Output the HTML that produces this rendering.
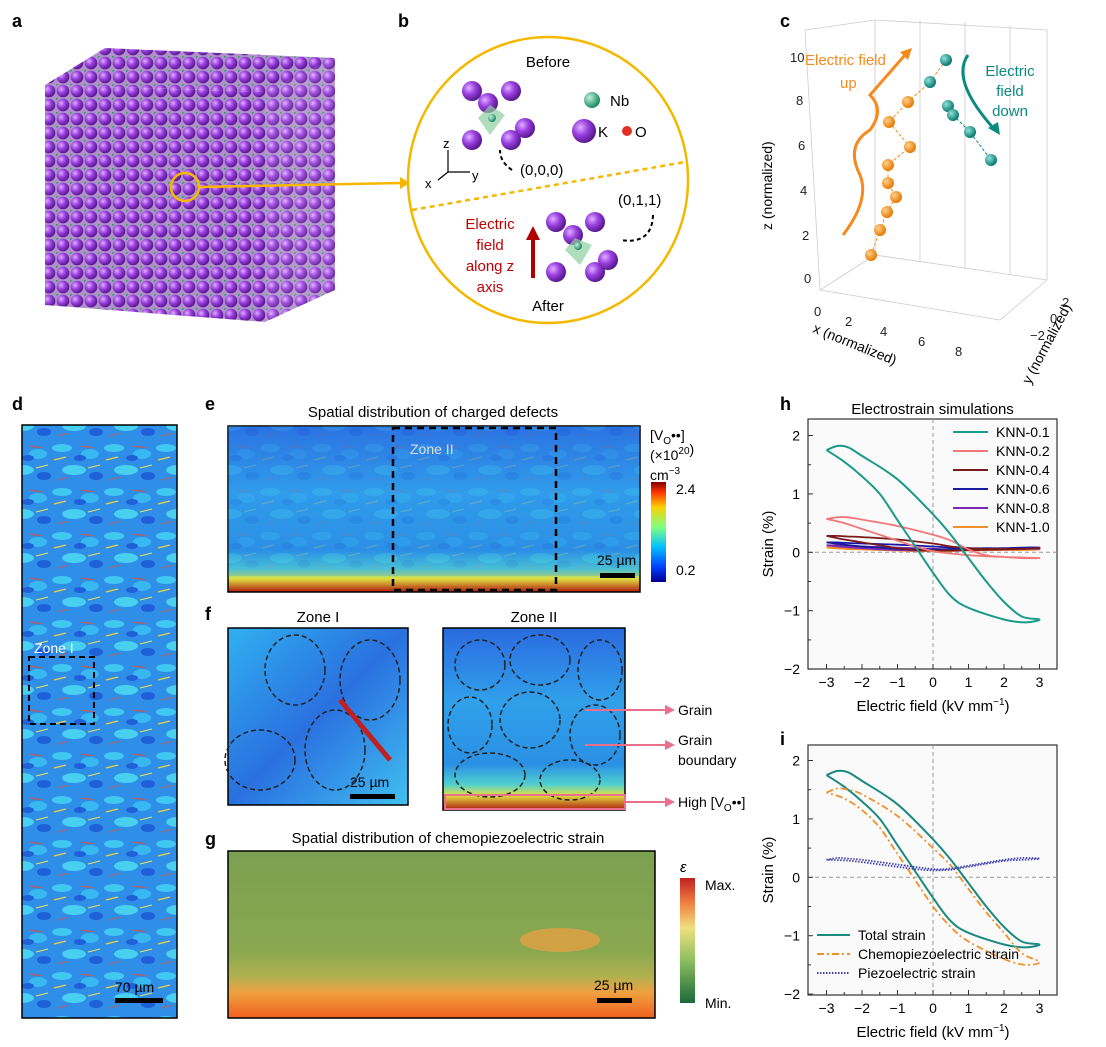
<!DOCTYPE html>
<html><head><meta charset="utf-8"><style>
body{margin:0;background:#fff;}
svg{display:block;font-family:"Liberation Sans",Arial,sans-serif;}
</style></head><body>
<svg id="fig" width="1106" height="1047" viewBox="0 0 1106 1047">
<defs>
<radialGradient id="ball" cx="35%" cy="35%" r="65%"><stop offset="0" stop-color="#e0b0ff"/><stop offset="0.5" stop-color="#9a3fe0"/><stop offset="1" stop-color="#5a1a90"/></radialGradient>
<radialGradient id="nb" cx="35%" cy="35%" r="65%"><stop offset="0" stop-color="#c0f0d8"/><stop offset="1" stop-color="#1c8a66"/></radialGradient>
<radialGradient id="tl" cx="35%" cy="35%" r="65%"><stop offset="0" stop-color="#8fe0d8"/><stop offset="1" stop-color="#0a7a70"/></radialGradient>
<radialGradient id="or" cx="35%" cy="35%" r="65%"><stop offset="0" stop-color="#ffd090"/><stop offset="1" stop-color="#e87a00"/></radialGradient>
<pattern id="atoms" width="14" height="14" patternUnits="userSpaceOnUse"><rect width="14" height="14" fill="#b090c8"/><circle cx="7" cy="7" r="6.3" fill="url(#ball)"/><circle cx="0" cy="0" r="2" fill="#3aa070"/></pattern>
<pattern id="grains" width="52" height="44" patternUnits="userSpaceOnUse"><rect width="52" height="44" fill="#2f8ee8"/><ellipse cx="10" cy="8" rx="10" ry="4" fill="#40c8f0"/><ellipse cx="38" cy="14" rx="9" ry="5" fill="#38b8f0"/><ellipse cx="22" cy="30" rx="12" ry="5" fill="#48d0f0"/><ellipse cx="44" cy="36" rx="7" ry="4" fill="#1e5ed8"/><ellipse cx="28" cy="18" rx="6" ry="3" fill="#2060d8"/><path d="M2 20 L14 17" stroke="#f0d040" stroke-width="1.3"/><path d="M30 6 L42 8" stroke="#e05030" stroke-width="1"/><path d="M36 28 L48 25" stroke="#f0e060" stroke-width="1"/><path d="M6 40 L16 37" stroke="#e05030" stroke-width="0.8"/></pattern>
<linearGradient id="egrad" x1="0" y1="0" x2="0" y2="1"><stop offset="0" stop-color="#2a6ae0"/><stop offset="0.4" stop-color="#30a0ea"/><stop offset="0.75" stop-color="#2a90e4"/><stop offset="0.86" stop-color="#50d0d0"/><stop offset="0.92" stop-color="#e0e040"/><stop offset="1" stop-color="#b01a10"/></linearGradient>
<linearGradient id="ggrad" x1="0" y1="0" x2="0" y2="1"><stop offset="0" stop-color="#7aa050"/><stop offset="0.6" stop-color="#8aa850"/><stop offset="0.75" stop-color="#b0b050"/><stop offset="0.85" stop-color="#f0a040"/><stop offset="1" stop-color="#f06020"/></linearGradient>
<linearGradient id="jet" x1="0" y1="1" x2="0" y2="0"><stop offset="0" stop-color="#00008f"/><stop offset="0.15" stop-color="#0040ff"/><stop offset="0.35" stop-color="#00c0ff"/><stop offset="0.55" stop-color="#80ff80"/><stop offset="0.75" stop-color="#ffd000"/><stop offset="0.9" stop-color="#ff3000"/><stop offset="1" stop-color="#800000"/></linearGradient>
<linearGradient id="rdylgn" x1="0" y1="1" x2="0" y2="0"><stop offset="0" stop-color="#1a6a3a"/><stop offset="0.35" stop-color="#90c060"/><stop offset="0.6" stop-color="#f0e080"/><stop offset="0.8" stop-color="#f08040"/><stop offset="1" stop-color="#c02020"/></linearGradient>
<linearGradient id="z1" x1="0" y1="0" x2="1" y2="1"><stop offset="0" stop-color="#30b0f0"/><stop offset="0.5" stop-color="#2a70e0"/><stop offset="1" stop-color="#40c0f0"/></linearGradient>
</defs>

<g font-weight="bold" font-size="18" fill="#000">
<text x="12" y="27">a</text>
<text x="398" y="27">b</text>
<text x="780" y="27">c</text>
<text x="12" y="410">d</text>
<text x="205" y="410">e</text>
<text x="205" y="620">f</text>
<text x="205" y="845">g</text>
<text x="780" y="410">h</text>
<text x="780" y="745">i</text>
</g>

<!-- panel a cube -->
<g>
<polygon points="45,85 105,48 335,58 265,92" fill="url(#atoms)"/>
<polygon points="265,92 335,58 335,290 265,322" fill="url(#atoms)" opacity="0.9"/>
<polygon points="45,85 265,92 265,322 45,305" fill="url(#atoms)"/>
<circle cx="185" cy="187" r="14" fill="none" stroke="#f5b800" stroke-width="2.5"/>
<line x1="199" y1="187" x2="400" y2="183" stroke="#f5b800" stroke-width="2.5"/>
<polygon points="400,177 410,183 400,189" fill="#f5b800"/>
</g>

<!-- panel b circle -->
<g>
<ellipse cx="548" cy="180" rx="140" ry="143" fill="#fff" stroke="#f5b800" stroke-width="2.5"/>
<line x1="412" y1="210" x2="685" y2="162" stroke="#f5b800" stroke-width="2.5" stroke-dasharray="5,4"/>
<text x="548" y="67" font-size="15" text-anchor="middle">Before</text>
<text x="548" y="311" font-size="15" text-anchor="middle">After</text>
<g><circle cx="472" cy="91" r="10" fill="url(#ball)"/><circle cx="511" cy="91" r="10" fill="url(#ball)"/><circle cx="472" cy="140" r="10" fill="url(#ball)"/><circle cx="511" cy="140" r="10" fill="url(#ball)"/><circle cx="488" cy="103" r="10" fill="url(#ball)"/><circle cx="525" cy="128" r="10" fill="url(#ball)"/><polygon points="490,105 505,115 490,135 478,118" fill="#8fcfa0" opacity="0.7"/><circle cx="492" cy="118" r="4" fill="url(#nb)"/></g>
<circle cx="592" cy="100" r="8" fill="url(#nb)"/><text x="610" y="106" font-size="15">Nb</text>
<circle cx="584" cy="131" r="12" fill="url(#ball)"/><text x="598" y="137" font-size="15">K</text>
<circle cx="627" cy="131" r="5" fill="#e03020"/><text x="635" y="137" font-size="15">O</text>
<text x="520" y="175" font-size="15">(0,0,0)</text>
<path d="M512 170 Q500 162 500 150" stroke="#000" stroke-width="2" stroke-dasharray="4,3" fill="none"/>
<line x1="448" y1="172" x2="448" y2="150" stroke="#000" stroke-width="1.2"/><line x1="448" y1="172" x2="470" y2="172" stroke="#000" stroke-width="1.2"/><line x1="448" y1="172" x2="438" y2="180" stroke="#000" stroke-width="1.2"/>
<text x="443" y="148" font-size="13">z</text><text x="472" y="180" font-size="13">y</text><text x="425" y="188" font-size="13">x</text>
<text x="618" y="205" font-size="15">(0,1,1)</text>
<path d="M653 215 Q652 245 620 240" stroke="#000" stroke-width="2" stroke-dasharray="4,3" fill="none"/>
<g><circle cx="556" cy="222" r="10" fill="url(#ball)"/><circle cx="595" cy="222" r="10" fill="url(#ball)"/><circle cx="556" cy="272" r="10" fill="url(#ball)"/><circle cx="595" cy="272" r="10" fill="url(#ball)"/><circle cx="573" cy="235" r="10" fill="url(#ball)"/><circle cx="608" cy="260" r="10" fill="url(#ball)"/><polygon points="575,238 592,245 580,265 565,250" fill="#8fcfa0" opacity="0.7"/><circle cx="578" cy="246" r="4" fill="url(#nb)"/></g>
<g fill="#c00000" font-size="15" text-anchor="middle"><text x="490" y="229">Electric</text><text x="490" y="250">field</text><text x="490" y="271">along z</text><text x="490" y="292">axis</text></g>
<rect x="531" y="238" width="4" height="40" fill="#b00000"/><polygon points="526,240 533,226 540,240" fill="#b00000"/>
</g>

<!-- panel c 3D -->
<g stroke="#ccc" stroke-width="0.8" fill="none">
<polyline points="805,30 875,20 1047,30 1047,280"/>
<line x1="875" y1="20" x2="875" y2="255"/>
<line x1="805" y1="30" x2="820" y2="290"/>
<line x1="820" y1="290" x2="875" y2="255"/><line x1="875" y1="255" x2="1047" y2="280"/>
<line x1="820" y1="290" x2="1000" y2="320"/><line x1="1000" y1="320" x2="1047" y2="280"/>
<line x1="920" y1="20" x2="920" y2="262"/><line x1="965" y1="22" x2="965" y2="268"/><line x1="1010" y1="26" x2="1010" y2="274"/>
</g>
<g font-size="13" fill="#222">
<text x="790" y="62">10</text><text x="796" y="105">8</text><text x="798" y="150">6</text><text x="800" y="195">4</text><text x="802" y="240">2</text><text x="804" y="283">0</text>
<text x="814" y="316">0</text><text x="845" y="326">2</text><text x="880" y="336">4</text><text x="918" y="346">6</text><text x="955" y="356">8</text>
<text x="1062" y="307">2</text><text x="1050" y="323">0</text><text x="1030" y="340">−2</text>
</g>
<text transform="translate(772,230) rotate(-90)" font-size="14">z (normalized)</text>
<text transform="translate(812,332) rotate(22)" font-size="14">x (normalized)</text>
<text transform="translate(1030,385) rotate(-62)" font-size="14">y (normalized)</text>
<path d="M843 235 Q870 200 860 175 Q845 145 870 130 Q885 110 870 95 L905 55" stroke="#f68a1e" stroke-width="3" fill="none"/>
<polygon points="900,52 912,48 908,60" fill="#f68a1e"/>
<text x="805" y="65" font-size="15" fill="#f68a1e">Electric field</text><text x="840" y="88" font-size="15" fill="#f68a1e">up</text>
<path d="M968 55 Q950 80 995 130" stroke="#0a8a80" stroke-width="3" fill="none"/>
<polygon points="988,128 1000,135 998,122" fill="#0a8a80"/>
<g font-size="15" fill="#0a8a80" text-anchor="middle"><text x="1010" y="76">Electric</text><text x="1010" y="96">field</text><text x="1010" y="116">down</text></g>
<polyline points="871,255 880,230 887,212 896,197 888,183 888,165 910,147 889,122 908,102 930,82 946,60" stroke="#f68a1e" stroke-dasharray="3,2" fill="none"/>
<polyline points="948,106 953,115 970,132 991,160" stroke="#0a8a80" stroke-dasharray="3,2" fill="none"/>
<g><circle cx="871" cy="255" r="6" fill="url(#or)"/><circle cx="880" cy="230" r="6" fill="url(#or)"/><circle cx="887" cy="212" r="6" fill="url(#or)"/><circle cx="896" cy="197" r="6" fill="url(#or)"/><circle cx="888" cy="183" r="6" fill="url(#or)"/><circle cx="888" cy="165" r="6" fill="url(#or)"/><circle cx="910" cy="147" r="6" fill="url(#or)"/><circle cx="889" cy="122" r="6" fill="url(#or)"/><circle cx="908" cy="102" r="6" fill="url(#or)"/></g>
<g><circle cx="930" cy="82" r="6" fill="url(#tl)"/><circle cx="946" cy="60" r="6" fill="url(#tl)"/><circle cx="948" cy="106" r="6" fill="url(#tl)"/><circle cx="953" cy="115" r="6" fill="url(#tl)"/><circle cx="970" cy="132" r="6" fill="url(#tl)"/><circle cx="991" cy="160" r="6" fill="url(#tl)"/></g>

<!-- panel d -->
<g>
<rect x="22" y="425" width="155" height="593" fill="url(#grains)" stroke="#000" stroke-width="1.5"/>
<rect x="29" y="657" width="65" height="67" fill="none" stroke="#000" stroke-width="2" stroke-dasharray="6,4"/>
<text x="34" y="653" font-size="14" fill="#fff">Zone I</text>
<rect x="115" y="998" width="48" height="5" fill="#000"/><text x="115" y="992" font-size="14" fill="#000">70 µm</text>
</g>

<!-- panel e -->
<text x="433" y="417" font-size="15" text-anchor="middle">Spatial distribution of charged defects</text>
<g>
<rect x="228" y="426" width="412" height="166" fill="url(#egrad)" stroke="#000" stroke-width="1.5"/>
<rect x="228" y="426" width="412" height="150" fill="url(#grains)" opacity="0.25"/>
<rect x="393" y="428" width="163" height="162" fill="none" stroke="#000" stroke-width="2.5" stroke-dasharray="7,5"/>
<text x="410" y="454" font-size="14" fill="#ddd">Zone II</text>
<rect x="600" y="573" width="35" height="5" fill="#000"/><text x="597" y="565" font-size="14">25 µm</text>
</g>
<g>
<text x="650" y="440" font-size="14">[V<tspan font-size="10" dy="4">O</tspan><tspan dy="-4">••</tspan>]</text>
<text x="650" y="460" font-size="14">(×10<tspan font-size="10" dy="-6">20</tspan>)</text>
<text x="650" y="480" font-size="14">cm<tspan font-size="10" dy="-6">−3</tspan></text>
<rect x="651" y="482" width="15" height="100" fill="url(#jet)"/>
<text x="676" y="494" font-size="14">2.4</text><text x="676" y="575" font-size="14">0.2</text>
</g>

<!-- panel f -->
<text x="318" y="622" font-size="15" text-anchor="middle">Zone I</text>
<text x="534" y="622" font-size="15" text-anchor="middle">Zone II</text>
<g>
<rect x="228" y="628" width="180" height="177" fill="url(#z1)" stroke="#000" stroke-width="1.5"/>
<g fill="none" stroke="#222" stroke-width="1.5" stroke-dasharray="5,3"><ellipse cx="295" cy="670" rx="30" ry="35"/><ellipse cx="370" cy="680" rx="30" ry="40"/><ellipse cx="260" cy="760" rx="35" ry="30"/><ellipse cx="335" cy="750" rx="30" ry="40"/></g>
<path d="M340 700 L390 760" stroke="#c02020" stroke-width="5"/>
<rect x="350" y="794" width="45" height="5" fill="#000"/><text x="350" y="787" font-size="14">25 µm</text>
</g>
<g>
<rect x="443" y="628" width="182" height="182" fill="url(#egrad)" stroke="#000" stroke-width="1.5"/>
<g fill="none" stroke="#222" stroke-width="1.5" stroke-dasharray="5,3"><ellipse cx="480" cy="665" rx="25" ry="25"/><ellipse cx="540" cy="660" rx="30" ry="25"/><ellipse cx="600" cy="670" rx="22" ry="30"/><ellipse cx="470" cy="725" rx="22" ry="28"/><ellipse cx="530" cy="720" rx="30" ry="28"/><ellipse cx="595" cy="735" rx="25" ry="30"/><ellipse cx="490" cy="775" rx="35" ry="22"/><ellipse cx="570" cy="780" rx="30" ry="20"/></g>
<rect x="445" y="795" width="180" height="14" fill="none" stroke="#e8708a" stroke-width="2"/>
</g>
<g font-size="14">
<line x1="585" y1="710" x2="665" y2="710" stroke="#e8708a" stroke-width="2"/><polygon points="665,705 675,710 665,715" fill="#e8708a"/><text x="678" y="715">Grain</text>
<line x1="585" y1="745" x2="665" y2="745" stroke="#e8708a" stroke-width="2"/><polygon points="665,740 675,745 665,750" fill="#e8708a"/><text x="678" y="745">Grain</text><text x="678" y="765">boundary</text>
<line x1="625" y1="802" x2="665" y2="802" stroke="#e8708a" stroke-width="2"/><polygon points="665,797 675,802 665,807" fill="#e8708a"/><text x="678" y="807">High [V<tspan font-size="10" dy="4">O</tspan><tspan dy="-4">••</tspan>]</text>
</g>

<!-- panel g -->
<text x="448" y="843" font-size="15" text-anchor="middle">Spatial distribution of chemopiezoelectric strain</text>
<g>
<rect x="228" y="851" width="427" height="167" fill="url(#ggrad)" stroke="#000" stroke-width="1.5"/>
<ellipse cx="560" cy="940" rx="40" ry="12" fill="#f0a040" opacity="0.7"/>
<rect x="597" y="998" width="35" height="5" fill="#000"/><text x="594" y="990" font-size="14">25 µm</text>
</g>
<g>
<text x="680" y="872" font-size="15" font-style="italic">ε</text>
<rect x="680" y="878" width="15" height="125" fill="url(#rdylgn)"/>
<text x="705" y="890" font-size="14">Max.</text><text x="705" y="1008" font-size="14">Min.</text>
</g>

<g id="chartH"></g>
<g id="chartI"></g>
</svg>
<script>
// ---- data for panel h ----
const xTicks = [-3,-2,-1,0,1,2,3];
const yTicks = [-2,-1,0,1,2];
const seriesNames = ["KNN-0.1","KNN-0.2","KNN-0.4","KNN-0.6","KNN-0.8","KNN-1.0"];
const seriesColors = ["#1a9a8a","#f07878","#7a1a1a","#1a1aa0","#7a2ab0","#f0902a"];
const loopX = [-3,-2.7,-2.4,-2,-1,0,0.5,1,1.5,2,2.5,3,2.6,2,1,0.5,0,-0.5,-1,-1.5,-2,-2.5,-3];
const knn01Y = [1.75,1.82,1.8,1.65,1.25,0.65,0.3,-0.1,-0.5,-0.85,-1.1,-1.15,-1.2,-1.15,-0.95,-0.75,-0.35,0.1,0.55,1.0,1.3,1.55,1.75];
const knn02Y = [0.57,0.6,0.6,0.56,0.45,0.3,0.2,0.05,-0.05,-0.08,-0.1,-0.1,-0.09,-0.08,-0.05,-0.02,0.02,0.1,0.2,0.3,0.4,0.5,0.57];
const knn04Y = [0.28,0.28,0.27,0.26,0.22,0.15,0.1,0.07,0.06,0.06,0.06,0.07,0.06,0.05,0.04,0.03,0.03,0.04,0.07,0.12,0.17,0.22,0.28];
const knn06Y = [0.17,0.17,0.16,0.15,0.13,0.1,0.08,0.07,0.07,0.07,0.08,0.08,0.08,0.07,0.06,0.05,0.05,0.05,0.06,0.08,0.1,0.13,0.17];
const knn08Y = [0.12,0.12,0.11,0.1,0.08,0.06,0.05,0.05,0.05,0.05,0.06,0.06,0.06,0.05,0.04,0.03,0.03,0.03,0.04,0.05,0.07,0.09,0.12];
const knn10Y = [0.08,0.08,0.07,0.07,0.05,0.04,0.04,0.04,0.04,0.04,0.04,0.05,0.05,0.04,0.03,0.02,0.02,0.02,0.03,0.04,0.05,0.06,0.08];
// ---- data for panel i ----
const iNames = ["Total strain","Chemopiezoelectric strain","Piezoelectric strain"];
const totalY = knn01Y;
const chemoY = [1.45,1.52,1.5,1.42,1.05,0.5,0.2,-0.2,-0.6,-0.95,-1.3,-1.45,-1.5,-1.4,-1.1,-0.85,-0.5,-0.05,0.4,0.85,1.15,1.35,1.45];
const piezoY = [0.3,0.33,0.32,0.3,0.22,0.14,0.15,0.2,0.25,0.3,0.33,0.32,0.3,0.28,0.18,0.13,0.12,0.14,0.18,0.22,0.26,0.29,0.3];

const NS="http://www.w3.org/2000/svg";
function el(tag, attrs, parent, txt){const e=document.createElementNS(NS,tag);for(const k in attrs)e.setAttribute(k,attrs[k]);if(txt!==undefined)e.textContent=txt;parent.appendChild(e);return e;}

function drawAxes(g, box, sx, sy, title){
  const fr=el('rect',{x:box.l,y:box.t,width:box.r-box.l,height:box.b-box.t,fill:'#fafafa',stroke:'#333','stroke-width':1.2},g);
  
  
  el('line',{x1:sx(0),x2:sx(0),y1:box.t,y2:box.b,stroke:'#999','stroke-dasharray':'4,3'},g);
  el('line',{x1:box.l,x2:box.r,y1:sy(0),y2:sy(0),stroke:'#999','stroke-dasharray':'4,3'},g);
  xTicks.forEach(v=>{
    el('line',{x1:sx(v),x2:sx(v),y1:box.b,y2:box.b-5,stroke:'#333'},g);
    const t=el('text',{x:sx(v),y:box.b+18,'font-size':14,'text-anchor':'middle'},g,v<0?'−'+(-v):String(v));
    
    
  });
  xTicks.slice(0,-1).forEach(v=>el('line',{x1:sx(v+0.5),x2:sx(v+0.5),y1:box.b,y2:box.b-3,stroke:'#333'},g));
  yTicks.forEach(v=>{
    el('line',{x1:box.l,x2:box.l+5,y1:sy(v),y2:sy(v),stroke:'#333'},g);
    const t=el('text',{x:box.l-8,y:sy(v)+5,'font-size':14,'text-anchor':'end'},g,v<0?'−'+(-v):String(v));
    
    
  });
  yTicks.slice(0,-1).forEach(v=>el('line',{x1:box.l,x2:box.l+3,y1:sy(v+0.5),y2:sy(v+0.5),stroke:'#333'},g));
  const yt=el('text',{transform:`translate(${box.l-35},${(box.t+box.b)/2}) rotate(-90)`,'font-size':15,'text-anchor':'middle'},g,'Strain (%)');
  
  
  const xt=el('text',{x:sx(0),y:box.b+42,'font-size':15,'text-anchor':'middle'},g,'Electric field (kV mm');
  el('tspan',{'font-size':10,dy:-6},xt,'−1');
  el('tspan',{dy:6},xt,')');
  
  
  if(title){const tt=el('text',{x:(box.l+box.r)/2,y:box.t-5,'font-size':15,'text-anchor':'middle'},g,title);
    
    }
}
// Catmull-Rom smoothed path through data points
function pathD(xs,ys,sx,sy){
  const P=xs.map((x,i)=>[sx(x),sy(ys[i])]);
  let d='M'+P[0][0].toFixed(1)+' '+P[0][1].toFixed(1);
  for(let i=0;i<P.length-1;i++){
    const p0=P[Math.max(0,i-1)],p1=P[i],p2=P[i+1],p3=P[Math.min(P.length-1,i+2)];
    const c1=[p1[0]+(p2[0]-p0[0])/6,p1[1]+(p2[1]-p0[1])/6];
    const c2=[p2[0]-(p3[0]-p1[0])/6,p2[1]-(p3[1]-p1[1])/6];
    d+=` C${c1[0].toFixed(1)} ${c1[1].toFixed(1)} ${c2[0].toFixed(1)} ${c2[1].toFixed(1)} ${p2[0].toFixed(1)} ${p2[1].toFixed(1)}`;
  }
  return d;
}

// chart h
(function(){
  const g=document.getElementById('chartH');
  const box={l:808,r:1057,t:419,b:669};
  const sx=v=>933+v*35.5, sy=v=>552.3-v*58.4;
  drawAxes(g,box,sx,sy,'Electrostrain simulations');
  const ys=[knn01Y,knn02Y,knn04Y,knn06Y,knn08Y,knn10Y];
  for(let k=ys.length-1;k>=0;k--){
    const p=el('path',{d:pathD(loopX,ys[k],sx,sy),fill:'none',stroke:seriesColors[k],'stroke-width':k==0?2:1.8},g);
    
    
  }
  seriesNames.forEach((n,k)=>{
    const y=432+k*19;
    el('line',{x1:953,x2:988,y1:y,y2:y,stroke:seriesColors[k],'stroke-width':2},g);
    const t=el('text',{x:996,y:y+5,'font-size':14},g,n);
    
    
  });
})();
// chart i
(function(){
  const g=document.getElementById('chartI');
  const box={l:808,r:1057,t:745,b:995};
  const sx=v=>933+v*35.5, sy=v=>877.3-v*58.4;
  drawAxes(g,box,sx,sy,null);
  const styles=[{c:'#1a8a80',d:'',w:2},{c:'#f0902a',d:'7,3,2,3',w:1.8},{c:'#4040b0',d:'1.5,1.5',w:1.8}];
  const data=[totalY,chemoY,piezoY];
  data.forEach((ys,k)=>{
    const p=el('path',{d:pathD(loopX,ys,sx,sy),fill:'none',stroke:styles[k].c,'stroke-width':styles[k].w,'stroke-dasharray':styles[k].d},g);
    
    
  });
  iNames.forEach((n,k)=>{
    const y=935+k*19;
    el('line',{x1:817,x2:850,y1:y,y2:y,stroke:styles[k].c,'stroke-width':2,'stroke-dasharray':styles[k].d},g);
    const t=el('text',{x:858,y:y+5,'font-size':14},g,n);
    
    
  });
})();
</script>
</body></html>
